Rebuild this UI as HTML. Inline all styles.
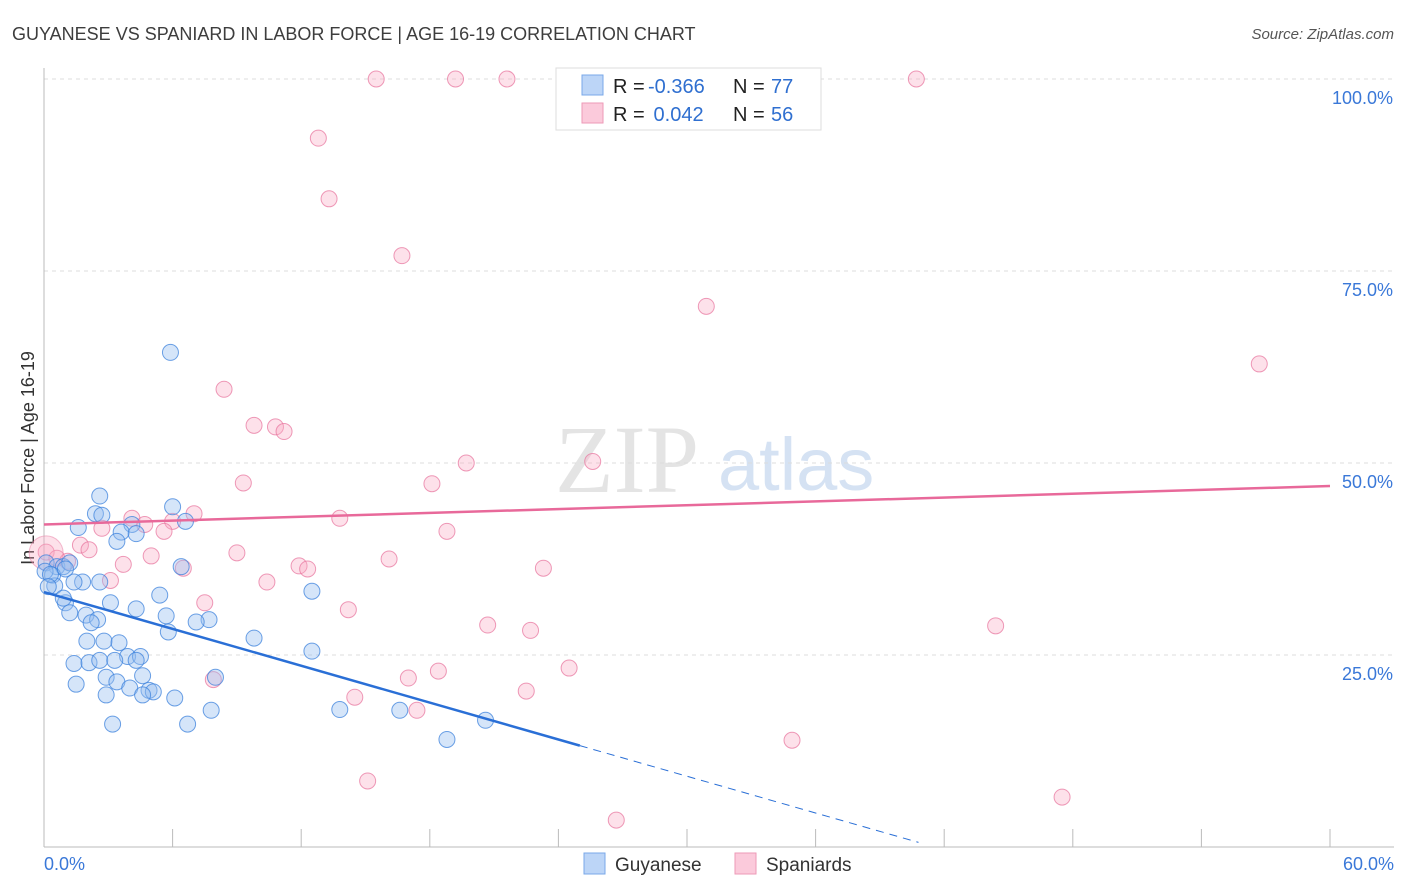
<!DOCTYPE html>
<html><head><meta charset="utf-8">
<style>
body{margin:0;background:#fff;font-family:"Liberation Sans",sans-serif;}
svg{display:block}
</style></head>
<body>
<svg id="chart" width="1406" height="892"></svg>
<script>
const xTicks=[0,10,20,30,40,50,60];
const yTicks=[25,50,75,100];
const blueX=[5.9,2.6,6.0,2.4,2.7,6.6,1.6,4.1,3.6,4.3,3.4,0.1,0.6,0.9,1.2,6.4,0.4,1.8,2.6,1.4,0.5,3.1,4.3,5.4,1.0,1.2,1.96,2.5,5.7,2.2,7.7,7.1,5.8,12.5,9.8,2.0,2.8,3.5,12.5,3.9,4.5,1.4,2.1,2.6,3.3,4.3,4.6,2.9,1.5,3.4,4.0,4.9,5.1,6.1,8.0,2.9,4.6,7.8,13.8,16.6,20.6,3.2,6.7,18.8,0.9,0.05,0.3,1.0,0.2];
const blueY=[64.4,45.7,44.3,43.4,43.2,42.4,41.6,42.0,41.0,40.8,39.8,37.0,36.5,36.5,37.0,36.5,35.4,34.5,34.5,34.5,34.0,31.8,31.0,32.8,31.8,30.5,30.2,29.6,30.1,29.2,29.6,29.3,28.0,33.3,27.2,26.8,26.8,26.6,25.5,24.8,24.8,23.9,24.0,24.3,24.3,24.3,22.3,22.1,21.2,21.5,20.7,20.4,20.2,19.4,22.1,19.8,19.8,17.8,17.9,17.8,16.5,16.0,16.0,14.0,32.4,35.9,35.5,36.2,33.9];
const pinkX=[15.5,19.2,21.6,40.7,12.8,13.3,16.7,30.9,56.7,8.4,9.8,10.8,11.2,19.7,25.6,9.3,18.1,7.0,4.1,4.7,6.0,5.6,13.8,18.8,2.7,0.1,0.6,1.1,1.7,2.1,5.0,9.0,16.1,3.7,6.5,11.9,12.3,23.3,3.1,10.4,7.5,14.2,20.7,22.7,44.4,24.5,18.4,17.0,7.9,22.5,14.5,17.4,34.9,15.1,47.5,26.7];
const pinkY=[100,100,100,100,92.3,84.4,77,70.4,62.9,59.6,54.9,54.7,54.1,50.0,50.2,47.4,47.3,43.4,42.8,42.0,42.4,41.1,42.8,41.1,41.5,38.4,37.6,37.2,39.3,38.7,37.9,38.3,37.5,36.8,36.3,36.6,36.2,36.3,34.7,34.5,31.8,30.9,28.9,28.2,28.8,23.3,22.9,22.0,21.8,20.3,19.5,17.8,13.9,8.6,6.5,3.5];
const blueTrend=[[0,33.2],[25,13.2]];
const blueTrendDash=[[25,13.2],[40.8,0.6]];
const pinkTrend=[[0,42.0],[60,47.0]];

const NS="http://www.w3.org/2000/svg";
const svg=document.getElementById('chart');
const X=v=>44+v*(1286/60);
const Y=v=>847-v*7.68;
function el(t,a,p){const e=document.createElementNS(NS,t);for(const k in a)e.setAttribute(k,a[k]);(p||svg).appendChild(e);return e;}

// title
let t=el('text',{x:12,y:40,'font-size':18,fill:'#3d3d3d'});t.textContent='GUYANESE VS SPANIARD IN LABOR FORCE | AGE 16-19 CORRELATION CHART';


t=el('text',{x:1394,y:39,'font-size':15,fill:'#555','text-anchor':'end','font-style':'italic'});t.textContent='Source: ZipAtlas.com';



// watermark
t=el('text',{x:555,y:492,'font-size':96,fill:'#e4e4e4','font-family':'Liberation Serif,serif'});t.textContent='ZIP';


t=el('text',{x:718,y:490,'font-size':74,fill:'#d5e2f3'});t.textContent='atlas';



// grid
for(const v of yTicks){
 const g=el('line',{x1:44,x2:1394,y1:Y(v),y2:Y(v),stroke:'#dcdcdc','stroke-dasharray':'4,4'});
 
 
 const l=el('text',{x:1393,y:Y(v)+25,'font-size':18,fill:'#3a78d8','text-anchor':'end'});l.textContent=v.toFixed(1)+'%';
 
 
}
let a=el('line',{x1:44,x2:44,y1:68,y2:847,stroke:'#bbb'});


a=el('line',{x1:44,x2:1394,y1:847,y2:847,stroke:'#bbb'});


for(let i=0;i<=10;i++){
 const tk=el('line',{x1:44+i*128.6,x2:44+i*128.6,y1:829,y2:847,stroke:'#bbb'});
 
 
}
t=el('text',{x:44,y:870,'font-size':18,fill:'#3a78d8'});t.textContent=xTicks[0].toFixed(1)+'%';


t=el('text',{x:1394,y:870,'font-size':18,fill:'#3a78d8','text-anchor':'end'});t.textContent=xTicks[6].toFixed(1)+'%';


t=el('text',{x:34,y:458,'font-size':18,fill:'#333','text-anchor':'middle',transform:'rotate(-90 34 458)'});t.textContent='In Labor Force | Age 16-19';



// points
for(let i=0;i<pinkX.length;i++){
 const c=el('circle',{cx:X(pinkX[i]),cy:Y(pinkY[i]),r:8,fill:'rgba(248,170,195,0.35)',stroke:'rgba(232,120,160,0.75)','stroke-width':1});
 
 
}
let big=el('circle',{cx:X(0.1),cy:Y(38.3),r:17,fill:'rgba(248,170,195,0.35)',stroke:'rgba(232,120,160,0.5)'});


for(let i=0;i<blueX.length;i++){
 const c=el('circle',{cx:X(blueX[i]),cy:Y(blueY[i]),r:8,fill:'rgba(150,190,240,0.4)',stroke:'rgba(60,130,220,0.75)','stroke-width':1});
 
 
}
// trends
let ln=el('line',{x1:X(blueTrend[0][0]),y1:Y(blueTrend[0][1]),x2:X(blueTrend[1][0]),y2:Y(blueTrend[1][1]),stroke:'#2a6fd6','stroke-width':2.5});


ln=el('line',{x1:X(blueTrendDash[0][0]),y1:Y(blueTrendDash[0][1]),x2:X(blueTrendDash[1][0]),y2:Y(blueTrendDash[1][1]),stroke:'#2a6fd6','stroke-width':1,'stroke-dasharray':'8,6'});


ln=el('line',{x1:X(pinkTrend[0][0]),y1:Y(pinkTrend[0][1]),x2:X(pinkTrend[1][0]),y2:Y(pinkTrend[1][1]),stroke:'#e8699a','stroke-width':2.5});



// legend box
const lg=el('g',{});


el('rect',{x:556,y:68,width:265,height:62,fill:'#fff',stroke:'#ddd'},lg);
el('rect',{x:582,y:75,width:21,height:20,fill:'#bcd5f7',stroke:'#7aa8e8'},lg);
el('rect',{x:582,y:103,width:21,height:20,fill:'#fbcadb',stroke:'#ee9ab7'},lg);
const rows=[['-0.366','77',93],[' 0.042','56',121]];
for(const r of rows){
 let q=el('text',{x:613,y:r[2],'font-size':20,fill:'#222'},lg);q.textContent='R =';
 q=el('text',{x:648,y:r[2],'font-size':20,fill:'#2f6fd0','xml:space':'preserve'},lg);q.textContent=r[0].startsWith(' ')?'\u00a0'+r[0].trim():r[0];
 q=el('text',{x:733,y:r[2],'font-size':20,fill:'#222'},lg);q.textContent='N =';
 q=el('text',{x:771,y:r[2],'font-size':20,fill:'#2f6fd0'},lg);q.textContent=r[1];
}
// bottom legend
const bl=el('g',{});


let s=el('rect',{x:584,y:853,width:21,height:21,fill:'#bcd5f7',stroke:'#7aa8e8'},bl);


t=el('text',{x:615,y:871,'font-size':19,fill:'#333'},bl);t.textContent='Guyanese';
s=el('rect',{x:735,y:853,width:21,height:21,fill:'#fbcadb',stroke:'#ee9ab7'},bl);


t=el('text',{x:766,y:871,'font-size':19,fill:'#333'},bl);t.textContent='Spaniards';
</script>
</body></html>
